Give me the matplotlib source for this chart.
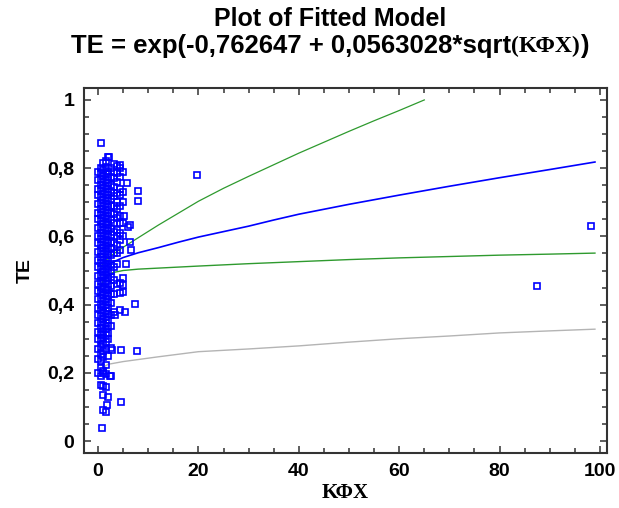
import matplotlib
matplotlib.use("Agg")
import matplotlib.pyplot as plt
from matplotlib.ticker import MultipleLocator, FuncFormatter

ARQ_FIG = "out.png"

# fitted curve and limits
fit_kfx = [0.5, 1, 2, 3, 5, 8, 12, 16, 20, 25, 30, 35, 40, 50, 60, 70, 80, 90, 99]
fit_te = [0.50, 0.507, 0.517, 0.525, 0.538, 0.552, 0.567, 0.583, 0.598, 0.614,
          0.630, 0.648, 0.665, 0.694, 0.721, 0.747, 0.772, 0.796, 0.818]

ucl_kfx = [0.3, 1, 2, 3, 5, 8, 12, 16, 20, 25, 30, 35, 40, 45, 50, 55, 60, 65]
ucl_te = [0.50, 0.52, 0.535, 0.548, 0.568, 0.596, 0.633, 0.668, 0.703, 0.741,
          0.776, 0.810, 0.844, 0.876, 0.908, 0.939, 0.969, 1.0]

lcl_kfx = [0.3, 0.6, 1, 2, 3, 5, 8, 12, 20, 30, 40, 50, 60, 70, 80, 90, 99]
lcl_te = [0.43, 0.455, 0.47, 0.487, 0.494, 0.50, 0.504, 0.507, 0.513, 0.520,
          0.526, 0.532, 0.537, 0.541, 0.545, 0.548, 0.551]

lpl_kfx = [0.3, 2, 5, 12, 20, 30, 40, 50, 60, 70, 80, 90, 99]
lpl_te = [0.21, 0.225, 0.233, 0.247, 0.262, 0.270, 0.279, 0.290, 0.300, 0.308,
          0.317, 0.323, 0.328]

# observations: the dense column near KFX = 0..5, column by column
col_kfx = [0.0, 0.5, 1.0, 1.5, 2.0, 2.5, 3.1, 3.7, 4.3, 5.0]
te_c0 = [0.20, 0.24, 0.27, 0.30, 0.32, 0.345, 0.37, 0.39, 0.415, 0.44, 0.46, 0.485,
         0.51, 0.53, 0.555, 0.58, 0.60, 0.625, 0.65, 0.67, 0.695, 0.72, 0.74, 0.765, 0.79]
te_c1 = [0.165, 0.19, 0.215, 0.235, 0.255, 0.275, 0.295, 0.312, 0.33, 0.348, 0.366,
         0.384, 0.40, 0.418, 0.436, 0.452, 0.47, 0.488, 0.505, 0.522, 0.54, 0.557,
         0.575, 0.592, 0.61, 0.627, 0.645, 0.662, 0.68, 0.697, 0.715, 0.732, 0.75,
         0.768, 0.785, 0.80]
te_c2 = [0.09, 0.135, 0.16, 0.205, 0.245, 0.265, 0.285, 0.303, 0.321, 0.339, 0.357,
         0.375, 0.392, 0.41, 0.427, 0.445, 0.462, 0.48, 0.497, 0.514, 0.531, 0.548,
         0.566, 0.583, 0.601, 0.618, 0.636, 0.653, 0.671, 0.688, 0.706, 0.723, 0.741,
         0.759, 0.777, 0.795, 0.815]
te_c3 = [0.085, 0.158, 0.198, 0.222, 0.27, 0.29, 0.31, 0.328, 0.345, 0.363, 0.38,
         0.398, 0.415, 0.433, 0.45, 0.468, 0.486, 0.503, 0.52, 0.538, 0.556, 0.573,
         0.59, 0.608, 0.626, 0.643, 0.66, 0.678, 0.695, 0.712, 0.73, 0.748, 0.766,
         0.784, 0.80, 0.822]
te_c4 = [0.13, 0.25, 0.30, 0.318, 0.336, 0.354, 0.372, 0.39, 0.407, 0.424, 0.442,
         0.46, 0.477, 0.494, 0.512, 0.529, 0.547, 0.564, 0.582, 0.6, 0.617, 0.635,
         0.652, 0.67, 0.687, 0.705, 0.722, 0.74, 0.757, 0.775, 0.79, 0.832]
te_c5 = [0.19, 0.272, 0.338, 0.37, 0.405, 0.43, 0.455, 0.48, 0.50, 0.52, 0.545,
         0.565, 0.585, 0.605, 0.625, 0.648, 0.668, 0.69, 0.71, 0.73, 0.752, 0.773, 0.80]
te_c6 = [0.378, 0.43, 0.472, 0.51, 0.55, 0.58, 0.612, 0.64, 0.665, 0.69, 0.718,
         0.745, 0.77, 0.79, 0.812]
te_c7 = [0.46, 0.52, 0.55, 0.575, 0.60, 0.62, 0.655, 0.68, 0.70, 0.728, 0.76, 0.785, 0.805]
te_c8 = [0.384, 0.434, 0.463, 0.56, 0.59, 0.61, 0.64, 0.66, 0.69, 0.72, 0.74, 0.775, 0.80]
te_c9 = [0.437, 0.457, 0.478, 0.60, 0.64, 0.70, 0.73, 0.79]

# scattered observations away from the column
kfx_extra = [5.4, 4.6, 2.7, 7.8, 7.3, 4.6, 0.8, 6.3, 6.3, 6.6, 5.8, 8.0, 8.0, 6.0,
             2.1, 0.5, 4.3, 19.7, 87.5, 98.2, 3.3, 2.3, 1.7, 1.0, 5.5, 5.2]
te_extra = [0.378, 0.267, 0.268, 0.265, 0.402, 0.115, 0.038, 0.633, 0.585, 0.56,
            0.757, 0.733, 0.705, 0.628, 0.832, 0.873, 0.81, 0.780, 0.455, 0.630,
            0.37, 0.19, 0.106, 0.20, 0.52, 0.66]

AZUL = "#0000ff"
VERDE = "#2e9a2e"
CINZA = "#b4b4b4"
SANS = "Liberation Sans"
SERIF = "Liberation Serif"


def montar_pontos():
    colunas = [te_c0, te_c1, te_c2, te_c3, te_c4, te_c5, te_c6, te_c7, te_c8, te_c9]
    xs, ys = [], []
    for x, col in zip(col_kfx, colunas):
        xs += [x] * len(col)
        ys += col
    return xs + kfx_extra, ys + te_extra


def gerar_grafico(caminho_fig=ARQ_FIG):
    fig = plt.figure(figsize=(6.19, 5.08), dpi=100)
    ax = fig.add_axes([84 / 619, 55 / 508, 523 / 619, 365 / 508])

    xs, ys = montar_pontos()
    ax.plot(xs, ys, ls="none", marker="s", ms=4.2, mew=1.2,
            mec=AZUL, mfc="none", zorder=3)

    ax.plot(lpl_kfx, lpl_te, color=CINZA, lw=1.0, zorder=2)
    ax.plot(lcl_kfx, lcl_te, color=VERDE, lw=1.0, zorder=2)
    ax.plot(ucl_kfx, ucl_te, color=VERDE, lw=0.9, zorder=2)
    ax.plot(fit_kfx, fit_te, color=AZUL, lw=1.2, zorder=4)

    ax.set_xlim(-2.8, 101.4)
    ax.set_ylim(-0.035, 1.035)
    ax.xaxis.set_major_locator(MultipleLocator(20))
    ax.xaxis.set_minor_locator(MultipleLocator(5))
    ax.yaxis.set_major_locator(MultipleLocator(0.2))
    ax.yaxis.set_minor_locator(MultipleLocator(0.05))
    ax.yaxis.set_major_formatter(FuncFormatter(
        lambda v, p: "0" if abs(v) < 1e-9 else ("1" if abs(v - 1) < 1e-9 else f"{v:.1f}".replace(".", ","))))

    ax.tick_params(which="both", direction="in", top=True, right=True,
                   color="#333333", width=1.1)
    ax.tick_params(which="major", length=5, pad=7)
    ax.tick_params(which="minor", length=3.5)
    for lab in ax.get_xticklabels() + ax.get_yticklabels():
        lab.set_fontfamily(SANS)
        lab.set_fontweight("bold")
        lab.set_fontsize(14)
    for sp in ax.spines.values():
        sp.set_linewidth(1.5)
        sp.set_color("#333333")

    ax.set_xlabel("ΚΦΧ", fontfamily=SERIF, fontweight="bold", fontsize=15, labelpad=2)
    ax.set_ylabel("TE", fontfamily=SANS, fontweight="bold", fontsize=14, labelpad=10)

    # titulo em duas linhas; a parte (ΚΦΧ) vai em serifada
    fig.text(330 / 619, 1 - 19 / 508, "Plot of Fitted Model", ha="center", va="center",
             fontfamily=SANS, fontweight="bold", fontsize=18)
    fig.canvas.draw()
    r = fig.canvas.get_renderer()
    parte1 = "TE = exp(-0,762647 + 0,0563028*sqrt"
    t1 = fig.text(0, 1 - 46 / 508, parte1, ha="left", va="center",
                  fontfamily=SANS, fontweight="bold", fontsize=18.5)
    t2 = fig.text(0, 1 - 46 / 508, "(ΚΦΧ)", ha="left", va="center",
                  fontfamily=SERIF, fontweight="bold", fontsize=17)
    t3 = fig.text(0, 1 - 46 / 508, ")", ha="left", va="center",
                  fontfamily=SANS, fontweight="bold", fontsize=18.5)
    w1 = t1.get_window_extent(r).width
    w2 = t2.get_window_extent(r).width
    w3 = t3.get_window_extent(r).width
    x0 = 330 - (w1 + w2 + w3) / 2
    t1.set_x(x0 / 619)
    t2.set_x((x0 + w1) / 619)
    t3.set_x((x0 + w1 + w2) / 619)

    fig.savefig(caminho_fig, dpi=100)
    plt.close(fig)


if __name__ == "__main__":
    gerar_grafico()
